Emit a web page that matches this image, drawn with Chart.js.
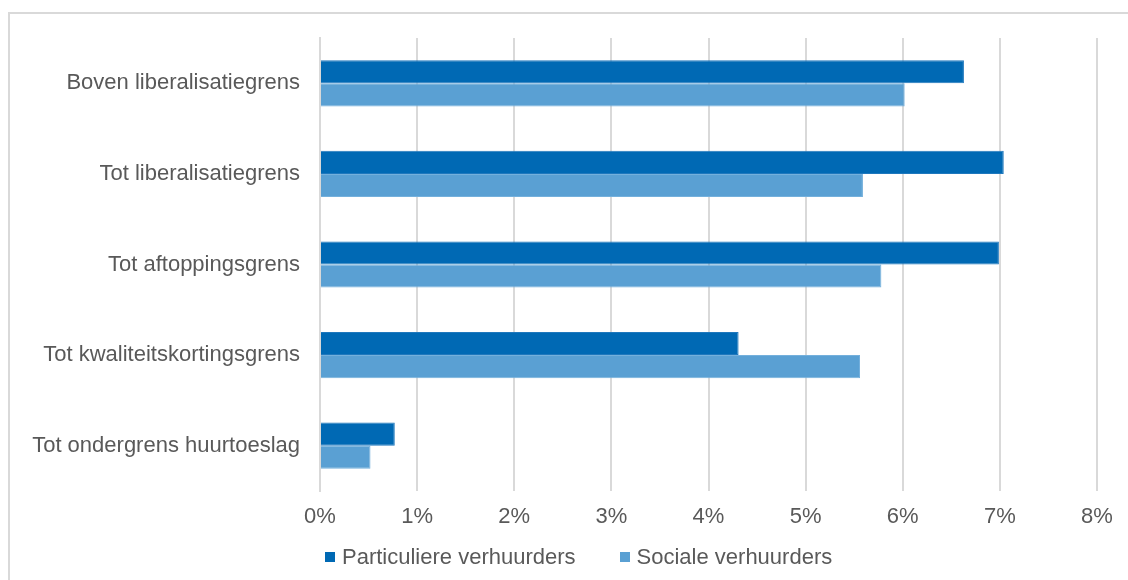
<!DOCTYPE html>
<html>
<head>
<meta charset="utf-8">
<script src="https://cdn.jsdelivr.net/npm/chart.js@4.4.1/dist/chart.umd.min.js"></script>
<style>
  html, body { margin: 0; padding: 0; background: #fff; }
  body { width: 1128px; height: 580px; position: relative; overflow: hidden; }
  .frame {
    position: absolute; left: 8px; top: 12px; width: 1140px; height: 600px;
    border-top: 2px solid #d9d9d9; border-left: 2px solid #d9d9d9;
  }
  #chart { position: absolute; left: 0; top: 0; }
  #legend {
    position: absolute; left: 325px; top: 544px; height: 26px;
    display: flex; align-items: center; gap: 44px;
    font: 22px 'Liberation Sans', Arial, sans-serif; color: #595959;
  }
  #legend .item { display: flex; align-items: center; white-space: nowrap; }
  #legend .box { width: 10px; height: 10px; margin-right: 7px; }
</style>
</head>
<body>
<div class="frame"></div>
<canvas id="chart" width="1128" height="580"></canvas>
<div id="legend"></div>
<script>
const categories = [
  'Boven liberalisatiegrens',
  'Tot liberalisatiegrens',
  'Tot aftoppingsgrens',
  'Tot kwaliteitskortingsgrens',
  'Tot ondergrens huurtoeslag'
];
const particuliere = [6.63, 7.04, 6.99, 4.31, 0.77];
const sociale = [6.02, 5.59, 5.78, 5.56, 0.52];
const seriesNames = ['Particuliere verhuurders', 'Sociale verhuurders'];

const textColor = '#595959';
const gridColor = '#d9d9d9';
const font = { family: 'Liberation Sans, Arial, sans-serif', size: 22 };

const chart = new Chart(document.getElementById('chart'), {
  type: 'bar',
  data: {
    labels: categories,
    datasets: [
      {
        label: seriesNames[0], data: particuliere,
        backgroundColor: '#0069b4', borderColor: '#1f78bd', borderWidth: 1,
        barPercentage: 1, categoryPercentage: 0.51
      },
      {
        label: seriesNames[1], data: sociale,
        backgroundColor: '#5aa0d3', borderColor: '#74b0dc', borderWidth: 1,
        barPercentage: 1, categoryPercentage: 0.51
      }
    ]
  },
  options: {
    indexAxis: 'y',
    responsive: false,
    animation: false,
    layout: { padding: { left: 0, right: 31, top: 38, bottom: 49 } },
    scales: {
      x: {
        min: 0, max: 8,
        ticks: {
          stepSize: 1, color: textColor, font: font, padding: 13,
          callback: v => v + '%'
        },
        grid: { color: gridColor, lineWidth: 2, drawTicks: false },
        border: { display: false },
        afterFit: scale => { scale.height = 40; }
      },
      y: {
        ticks: { color: textColor, font: font, padding: 20 },
        grid: { display: false, drawTicks: false },
        border: { color: gridColor, width: 2 },
        afterFit: scale => { scale.width = 320; }
      }
    },
    plugins: {
      legend: { display: false },
      tooltip: { enabled: false }
    }
  }
});

// legend built from the chart's datasets
const legendEl = document.getElementById('legend');
chart.data.datasets.forEach(ds => {
  const item = document.createElement('div');
  item.className = 'item';
  item.innerHTML = `<span class="box" style="background:${ds.backgroundColor}"></span>${ds.label}`;
  legendEl.appendChild(item);
});
</script>
</body>
</html>
